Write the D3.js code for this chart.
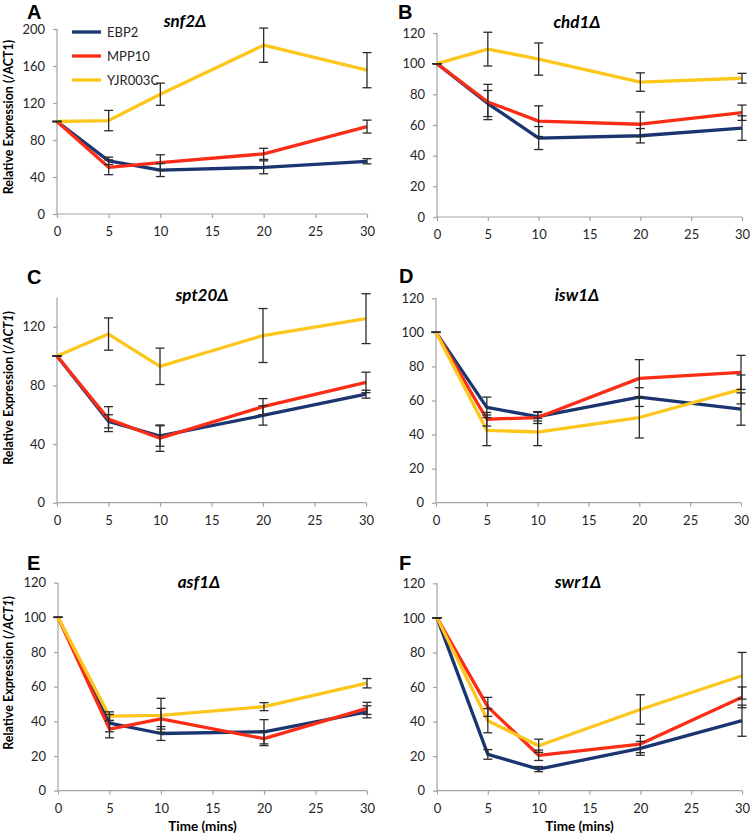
<!DOCTYPE html>
<html>
<head>
<meta charset="utf-8">
<script src="https://cdn.jsdelivr.net/npm/d3@7"></script>
<style>
  html, body { margin: 0; padding: 0; background: #fff; }
  svg text { font-family: Lato, "Open Sans", "DejaVu Sans", sans-serif; }
</style>
</head>
<body>
<svg id="chart" width="750" height="837"></svg>
<script>
// ---------- DATA ----------
const times = [0, 5, 10, 20, 30];
const genes = ["EBP2", "MPP10", "YJR003C"];
const xTicks = [0, 5, 10, 15, 20, 25, 30];

// A: snf2Δ
const snf2_EBP2 = [100, 57.5, 47.5, 50.5, 57];
const snf2_EBP2_err = [0, 4, 7, 7, 2.8];
const snf2_MPP10 = [100, 50.5, 55.5, 65, 94.5];
const snf2_MPP10_err = [0, 8, 8.5, 6, 7];
const snf2_YJR003C = [100, 101, 129.5, 182.5, 155.5];
const snf2_YJR003C_err = [0, 11, 12, 18.5, 19];
const snf2_yTicks = [0, 40, 80, 120, 160, 200];

// B: chd1Δ
const chd1_EBP2 = [100, 74, 51.5, 53, 58];
const chd1_EBP2_err = [0, 8.5, 7.5, 4.7, 8];
const chd1_MPP10 = [100, 75, 62.5, 60.5, 68];
const chd1_MPP10_err = [0, 11.5, 10, 8, 5];
const chd1_YJR003C = [100, 109.5, 103, 88, 90.5];
const chd1_YJR003C_err = [0, 11, 10.5, 6, 3.2];
const chd1_yTicks = [0, 20, 40, 60, 80, 100, 120];

// C: spt20Δ
const spt20_EBP2 = [100, 55.5, 45.5, 59.5, 74];
const spt20_EBP2_err = [0, 4.5, 7, 6.6, 2.7];
const spt20_MPP10 = [100, 57, 44, 65.5, 82];
const spt20_MPP10_err = [0, 8.5, 9, 5.5, 7];
const spt20_YJR003C = [100, 115, 93, 114, 125.5];
const spt20_YJR003C_err = [0, 11, 12.4, 18.4, 17];
const spt20_yTicks = [0, 40, 80, 120];

// D: isw1Δ
const isw1_EBP2 = [100, 56, 50.5, 62, 55];
const isw1_EBP2_err = [0, 6, 2.5, 5.5, 9.5];
const isw1_MPP10 = [100, 49, 50, 73, 76.5];
const isw1_MPP10_err = [0, 4, 3.5, 11, 10];
const isw1_YJR003C = [100, 42.5, 41.5, 50, 66.5];
const isw1_YJR003C_err = [0, 9, 8, 12, 8.5];
const isw1_yTicks = [0, 20, 40, 60, 80, 100, 120];

// E: asf1Δ
const asf1_EBP2 = [100, 39, 33, 34, 45.5];
const asf1_EBP2_err = [0, 5, 4, 7, 3.5];
const asf1_MPP10 = [100, 35.5, 41.5, 30, 47.5];
const asf1_MPP10_err = [0, 5, 6, 4, 3.5];
const asf1_YJR003C = [100, 43, 43.5, 48.5, 62];
const asf1_YJR003C_err = [0, 2.5, 9.8, 2.3, 2.7];
const asf1_yTicks = [0, 20, 40, 60, 80, 100, 120];

// F: swr1Δ
const swr1_EBP2 = [100, 21, 12.5, 24.5, 40.5];
const swr1_EBP2_err = [0, 2.8, 1.5, 4, 9];
const swr1_MPP10 = [100, 48.5, 20.5, 27, 54];
const swr1_MPP10_err = [0, 5.5, 3, 5, 6];
const swr1_YJR003C = [100, 40.5, 26, 47, 66.5];
const swr1_YJR003C_err = [0, 7, 3.8, 8.5, 13.5];
const swr1_yTicks = [0, 20, 40, 60, 80, 100, 120];

// ---------- STYLE / LAYOUT ----------
const colors = { EBP2: "#1b3571", MPP10: "#fb2d16", YJR003C: "#fdc61c" };
const axisColor = "#a3a3a3";
const textColor = "#262626";

const panels = [
  { letter: "A", title: "snf2Δ", vals: [snf2_EBP2, snf2_MPP10, snf2_YJR003C], errs: [snf2_EBP2_err, snf2_MPP10_err, snf2_YJR003C_err],
    yTicks: snf2_yTicks, yMax: 200, x0: 57, x1: 367, yB: 214, yT: 29, tx: 185, ty: 27, lx: 27, ly: 19,
    ylab: true, ylabItalic: false, ylabY: 117, xlab: false, legend: true },
  { letter: "B", title: "chd1Δ", vals: [chd1_EBP2, chd1_MPP10, chd1_YJR003C], errs: [chd1_EBP2_err, chd1_MPP10_err, chd1_YJR003C_err],
    yTicks: chd1_yTicks, yMax: 120, x0: 437, x1: 742, yB: 217, yT: 33, tx: 577, ty: 28, lx: 398, ly: 19,
    ylab: false, xlab: false, legend: false },
  { letter: "C", title: "spt20Δ", vals: [spt20_EBP2, spt20_MPP10, spt20_YJR003C], errs: [spt20_EBP2_err, spt20_MPP10_err, spt20_YJR003C_err],
    yTicks: spt20_yTicks, yMax: 140, x0: 57, x1: 366, yB: 502.7, yT: 297.4, tx: 202, ty: 301, lx: 27, ly: 284,
    ylab: true, ylabItalic: true, ylabY: 388, xlab: false, legend: false },
  { letter: "D", title: "isw1Δ", vals: [isw1_EBP2, isw1_MPP10, isw1_YJR003C], errs: [isw1_EBP2_err, isw1_MPP10_err, isw1_YJR003C_err],
    yTicks: isw1_yTicks, yMax: 120, x0: 436, x1: 741, yB: 502.7, yT: 298.3, tx: 577, ty: 301, lx: 399, ly: 283,
    ylab: false, xlab: false, legend: false },
  { letter: "E", title: "asf1Δ", vals: [asf1_EBP2, asf1_MPP10, asf1_YJR003C], errs: [asf1_EBP2_err, asf1_MPP10_err, asf1_YJR003C_err],
    yTicks: asf1_yTicks, yMax: 120, x0: 58, x1: 367, yB: 790.7, yT: 582.7, tx: 199, ty: 588, lx: 27, ly: 570,
    ylab: true, ylabItalic: true, ylabY: 673, xlab: true, legend: false },
  { letter: "F", title: "swr1Δ", vals: [swr1_EBP2, swr1_MPP10, swr1_YJR003C], errs: [swr1_EBP2_err, swr1_MPP10_err, swr1_YJR003C_err],
    yTicks: swr1_yTicks, yMax: 120, x0: 437, x1: 742, yB: 790.7, yT: 583.3, tx: 578, ty: 588, lx: 399, ly: 570,
    ylab: false, xlab: true, legend: false }
];

const svg = d3.select("#chart");

panels.forEach(p => {
  const g = svg.append("g");
  const x = d3.scaleLinear().domain([0, 30]).range([p.x0, p.x1]);
  const y = d3.scaleLinear().domain([0, p.yMax]).range([p.yB, p.yT]);

  // axes
  const xAxis = d3.axisBottom(x).tickValues(xTicks).tickSize(4).tickPadding(9).tickSizeOuter(0);
  const yAxis = d3.axisLeft(y).tickValues(p.yTicks).tickSize(4).tickPadding(8).tickSizeOuter(0);
  const gx = g.append("g").attr("transform", `translate(0,${p.yB})`).call(xAxis);
  const gy = g.append("g").attr("transform", `translate(${p.x0},0)`).call(yAxis);
  [gx, gy].forEach(a => {
    a.select(".domain").attr("stroke", axisColor).attr("stroke-width", 1.2);
    a.selectAll(".tick line").attr("stroke", axisColor).attr("stroke-width", 1.2);
    a.selectAll(".tick text").attr("fill", textColor).style("font-size", "13px")
      .style("font-family", "Lato, 'Open Sans', sans-serif");
  });
  gx.select(".domain").attr("d", `M${p.x0},0H${p.x1}`);
  gy.select(".domain").attr("d", `M0,${p.yB}V${p.yT}`);

  // lines
  const line = d3.line().x((d, i) => x(times[i])).y(d => y(d));
  genes.forEach((gname, k) => {
    g.append("path").datum(p.vals[k])
      .attr("fill", "none").attr("stroke", colors[gname])
      .attr("stroke-width", 3.3).attr("stroke-linejoin", "round")
      .attr("d", line);
  });

  // error bars
  genes.forEach((gname, k) => {
    const eb = g.append("g").attr("stroke", "#2b2b2b").attr("stroke-width", 1.3);
    p.vals[k].forEach((v, i) => {
      const e = p.errs[k][i];
      const cx = x(times[i]);
      const yh = y(v + e), yl = y(v - e);
      eb.append("line").attr("x1", cx).attr("x2", cx).attr("y1", yh).attr("y2", yl);
      eb.append("line").attr("x1", cx - 4.5).attr("x2", cx + 4.5).attr("y1", yh).attr("y2", yh);
      eb.append("line").attr("x1", cx - 4.5).attr("x2", cx + 4.5).attr("y1", yl).attr("y2", yl);
    });
  });

  // panel letter
  g.append("text").attr("x", p.lx).attr("y", p.ly).text(p.letter)
    .attr("fill", "#000").style("font-size", "20px").style("font-weight", "bold")
    .style("font-family", "'Liberation Sans', Arial, sans-serif");

  // title
  g.append("text").attr("x", p.tx).attr("y", p.ty).attr("text-anchor", "middle")
    .text(p.title).attr("fill", "#000")
    .style("font-size", "17px").style("font-weight", "bold").style("font-style", "italic");

  // y label
  if (p.ylab) {
    const t = g.append("text")
      .attr("transform", `translate(13,${p.ylabY}) rotate(-90)`)
      .attr("text-anchor", "middle").attr("fill", "#000")
      .style("font-size", "12.5px").style("font-weight", "bold");
    t.append("tspan").text("Relative Expression (/");
    t.append("tspan").text("ACT1").style("font-style", p.ylabItalic ? "italic" : "normal");
    t.append("tspan").text(")");
  }

  // x label
  if (p.xlab) {
    g.append("text").attr("x", (p.x0 + p.x1) / 2 - 10).attr("y", 831)
      .attr("text-anchor", "middle").attr("fill", "#000")
      .style("font-size", "13.5px").style("font-weight", "bold")
      .text("Time (mins)");
  }

  // legend
  if (p.legend) {
    const legY = [32, 56, 80];
    genes.forEach((gname, k) => {
      g.append("line").attr("x1", 72).attr("x2", 101).attr("y1", legY[k]).attr("y2", legY[k])
        .attr("stroke", colors[gname]).attr("stroke-width", 3.3);
      g.append("text").attr("x", 107).attr("y", legY[k]).attr("dy", "0.35em")
        .attr("fill", textColor).style("font-size", "13px").text(gname);
    });
  }
});
</script>
</body>
</html>
